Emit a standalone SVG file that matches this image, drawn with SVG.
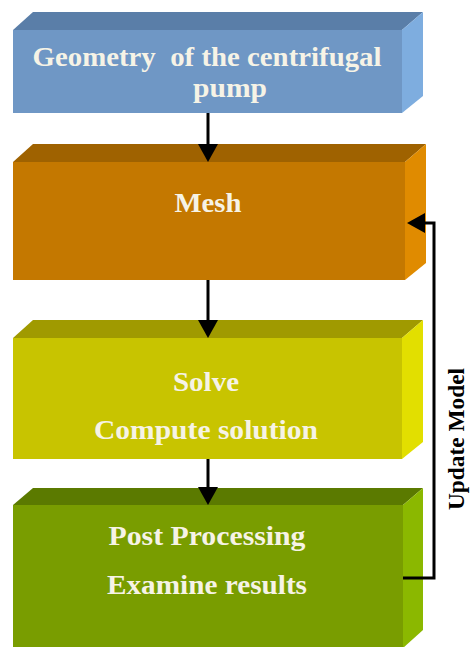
<svg xmlns="http://www.w3.org/2000/svg" width="472" height="647" viewBox="0 0 472 647">
<style>
.t{font-family:"Liberation Serif","Times New Roman",serif;font-weight:bold;font-size:27px;fill:#f6f3e6;text-anchor:middle;white-space:pre}
.lbl{font-family:"Liberation Serif","Times New Roman",serif;font-weight:bold;font-size:23px;fill:#000;text-anchor:middle}
.c{fill:none;stroke:#000;stroke-width:3}
</style>
<defs>
<marker id="ah" markerUnits="userSpaceOnUse" markerWidth="20" markerHeight="20" refX="0" refY="10" orient="auto" overflow="visible">
<path d="M0,0 L18,10 L0,20 z" fill="#000"/>
</marker>
</defs>
<rect width="472" height="647" fill="#fff"/>
<g id="geometry">
<polygon points="13,30 33,12 423,12 402,30" fill="#5a7ea8"/>
<polygon points="402,30 423,12 423,96 402,113" fill="#7eaddf"/>
<rect x="13" y="30" width="389" height="83" fill="#6f97c5"/>
<text class="t" x="207" y="66" textLength="349" lengthAdjust="spacingAndGlyphs" xml:space="preserve">Geometry  of the centrifugal</text>
<text class="t" x="230" y="97" textLength="74" lengthAdjust="spacingAndGlyphs">pump</text>
</g>
<g id="mesh">
<polygon points="13,162 33,144 426,144 405,162" fill="#9f6200"/>
<polygon points="405,162 426,144 426,263 405,280" fill="#e08b00"/>
<rect x="13" y="162" width="392" height="118" fill="#c47800"/>
<text class="t" x="208" y="212" textLength="67" lengthAdjust="spacingAndGlyphs">Mesh</text>
</g>
<g id="solve">
<polygon points="13,338 33,320 423,320 402,338" fill="#a09a00"/>
<polygon points="402,338 423,320 423,442 402,459" fill="#e2df00"/>
<rect x="13" y="338" width="389" height="121" fill="#c8c400"/>
<text class="t" x="206" y="391" textLength="66" lengthAdjust="spacingAndGlyphs">Solve</text>
<text class="t" x="206" y="439" textLength="224" lengthAdjust="spacingAndGlyphs">Compute solution</text>
</g>
<g id="post">
<polygon points="13,505 33,488 423,488 403,505" fill="#5b7a00"/>
<polygon points="403,505 423,488 423,630 403,648" fill="#8bb800"/>
<rect x="13" y="505" width="390" height="143" fill="#799d00"/>
<text class="t" x="207" y="545" textLength="197" lengthAdjust="spacingAndGlyphs">Post Processing</text>
<text class="t" x="207" y="594" textLength="200" lengthAdjust="spacingAndGlyphs">Examine results</text>
</g>
<g id="connectors">
<path class="c" d="M208,113 V144" marker-end="url(#ah)"/>
<path class="c" d="M208,280 V320" marker-end="url(#ah)"/>
<path class="c" d="M208,459 V487" marker-end="url(#ah)"/>
<path class="c" d="M403,578 H434 V223 H425" marker-end="url(#ah)"/>
<text class="lbl" transform="translate(464,439) rotate(-90)" textLength="142" lengthAdjust="spacingAndGlyphs">Update Model</text>
</g>
</svg>
